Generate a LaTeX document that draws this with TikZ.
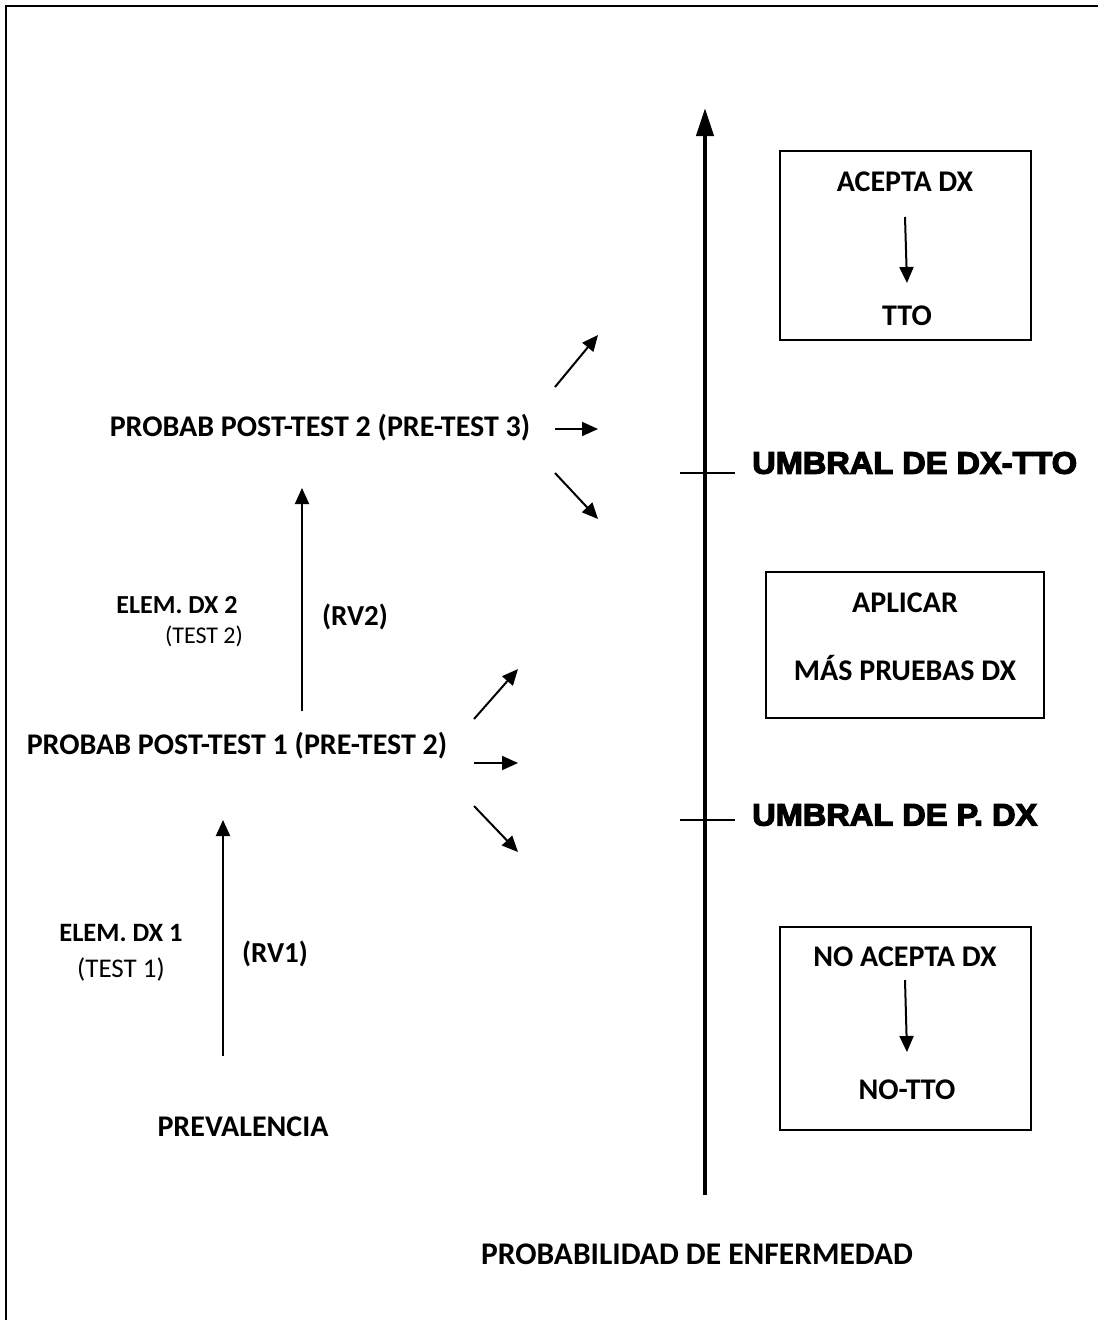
\documentclass[tikz,border=0pt]{standalone}
\usepackage{fontspec}
\setmainfont{Carlito}
\newfontfamily\heavyfont{Liberation Sans Bold}[FakeBold=4,FakeStretch=1.05]
\usetikzlibrary{arrows.meta}
\newcommand\fsz[1]{\fontsize{#1}{#1}\selectfont}
\begin{document}
\begin{tikzpicture}[x=1pt,y=-1pt,
  lbl/.style={font=\fsz{30}\bfseries, inner sep=0pt},
  sub/.style={font=\fsz{27}, inner sep=0pt},
  thr/.style={font=\fsz{31}\heavyfont, inner sep=0pt, anchor=west},
  box/.style={draw, line width=2pt},
  arr/.style={line width=2pt, -{Triangle[length=16pt,width=14pt]}},
  axis/.style={line width=4pt, -{Triangle[length=28pt,width=17pt]}},
  tick/.style={line width=1.5pt}]
\useasboundingbox (0,0) rectangle (1098,1320);
% outer frame (open on the right and bottom)
\draw[line width=2pt] (1098,6) -- (6,6) -- (6,1320);

% probability axis
\coordinate (axb) at (705,1195);
\coordinate (axt) at (705,108);
\draw[axis] (axb) -- (axt);
\node[lbl, font=\fsz{31.5}\bfseries] (axlbl) at (697,1254) {PROBABILIDAD DE ENFERMEDAD};

% thresholds
\coordinate (t1a) at (680,473); \coordinate (t1b) at (735,473);
\draw[tick] (t1a) -- (t1b);
\node[thr] (u1) at (752,463) {UMBRAL DE DX-TTO};
\coordinate (t2a) at (680,820); \coordinate (t2b) at (735,820);
\draw[tick] (t2a) -- (t2b);
\node[thr] (u2) at (752,815) {UMBRAL DE P. DX};

% decision boxes
\draw[box] (780,151) rectangle (1031,340);
\node[lbl] (acepta) at (905,182) {ACEPTA DX};
\node[lbl] (tto) at (907,316) {TTO};
\draw[arr] (905,217) -- (907,283);

\draw[box] (766,572) rectangle (1044,718);
\node[lbl] (aplicar) at (905,603) {APLICAR};
\node[lbl] (mas) at (905,668) {MÁS PRUEBAS DX};

\draw[box] (780,927) rectangle (1031,1130);
\node[lbl] (noacepta) at (905,957) {NO ACEPTA DX};
\node[lbl] (notto) at (907,1090) {NO-TTO};
\draw[arr] (905,980) -- (907,1052);

% left column: chain of probabilities
\node[lbl] (prev) at (243,1127) {PREVALENCIA};
\coordinate (rv1b) at (223,1056); \coordinate (rv1t) at (223,820);
\draw[arr] (rv1b) -- (rv1t);
\node[lbl, font=\fsz{26.5}\bfseries] (e1) at (121,933) {ELEM. DX 1};
\node[sub] (t1) at (121,969) {(TEST 1)};
\node[lbl, font=\fsz{29}\bfseries] (rv1) at (275,954) {(RV1)};

\node[lbl] (p1) at (237,746) {PROBAB POST-TEST 1 (PRE-TEST 2)};
\coordinate (a1s) at (474,719); \coordinate (a1e) at (518,669);
\coordinate (b1s) at (474,763); \coordinate (b1e) at (518,763);
\coordinate (c1s) at (474,806); \coordinate (c1e) at (518,852);
\draw[arr] (a1s) -- (a1e);
\draw[arr] (b1s) -- (b1e);
\draw[arr] (c1s) -- (c1e);

\coordinate (rv2b) at (302,711); \coordinate (rv2t) at (302,488);
\draw[arr] (rv2b) -- (rv2t);
\node[lbl, font=\fsz{26}\bfseries] (e2) at (177,605) {ELEM. DX 2};
\node[sub, font=\fsz{24}] (t2) at (204,636) {(TEST 2)};
\node[lbl, font=\fsz{29}\bfseries] (rv2) at (355,617) {(RV2)};

\node[lbl] (p2) at (320,428) {PROBAB POST-TEST 2 (PRE-TEST 3)};
\coordinate (a2s) at (555,387); \coordinate (a2e) at (598,335);
\coordinate (b2s) at (555,429); \coordinate (b2e) at (598,429);
\coordinate (c2s) at (555,473); \coordinate (c2e) at (598,519);
\draw[arr] (a2s) -- (a2e);
\draw[arr] (b2s) -- (b2e);
\draw[arr] (c2s) -- (c2e);
\end{tikzpicture}
\end{document}
